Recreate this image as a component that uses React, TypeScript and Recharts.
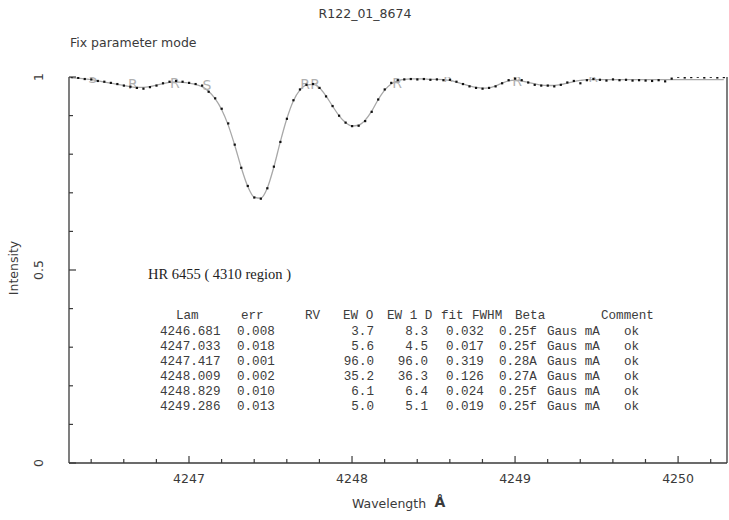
import React from "react";
import { ComposedChart, XAxis, YAxis, Line, Scatter } from "recharts";

// observed spectrum (dots)
const obsLam = [
  4246.28, 4246.32, 4246.36, 4246.4, 4246.44, 4246.48, 4246.52, 4246.56, 4246.6, 4246.64,
  4246.68, 4246.72, 4246.76, 4246.8, 4246.84, 4246.88, 4246.92, 4246.96, 4247.0, 4247.04,
  4247.08, 4247.12, 4247.16, 4247.2, 4247.24, 4247.28, 4247.32, 4247.36, 4247.4, 4247.44,
  4247.48, 4247.52, 4247.56, 4247.6, 4247.64, 4247.68, 4247.72, 4247.76, 4247.8, 4247.84,
  4247.88, 4247.92, 4247.96, 4248.0, 4248.04, 4248.08, 4248.12, 4248.16, 4248.2, 4248.24,
  4248.28, 4248.32, 4248.36, 4248.4, 4248.44, 4248.48, 4248.52, 4248.56, 4248.6, 4248.64,
  4248.68, 4248.72, 4248.76, 4248.8, 4248.84, 4248.88, 4248.92, 4248.96, 4249.0, 4249.04,
  4249.08, 4249.12, 4249.16, 4249.2, 4249.24, 4249.28, 4249.32, 4249.36, 4249.4, 4249.44,
  4249.48, 4249.52, 4249.56, 4249.6, 4249.64, 4249.68, 4249.72, 4249.76, 4249.8, 4249.84,
  4249.88, 4249.92, 4249.96, 4250.0, 4250.04, 4250.08, 4250.12, 4250.16, 4250.2, 4250.24,
  4250.28,
];
const obsInt = [
  1.0, 0.998, 0.995, 0.994, 0.99, 0.988, 0.985, 0.982, 0.978, 0.975,
  0.972, 0.97, 0.974, 0.978, 0.984, 0.988, 0.99, 0.988, 0.985, 0.982,
  0.978, 0.962, 0.945, 0.918, 0.88, 0.825, 0.765, 0.718, 0.688, 0.685,
  0.712, 0.768, 0.832, 0.892, 0.94, 0.968, 0.98, 0.982, 0.972, 0.95,
  0.925, 0.9, 0.882, 0.873, 0.874, 0.886, 0.91, 0.942, 0.968, 0.985,
  0.992, 0.994, 0.995, 0.994, 0.995, 0.993, 0.994, 0.992, 0.993, 0.988,
  0.982, 0.976, 0.972, 0.97, 0.972, 0.976, 0.984, 0.992, 0.996, 0.992,
  0.986, 0.98, 0.978, 0.978, 0.976, 0.98, 0.986, 0.99, 0.984, 0.992,
  0.995, 0.993, 0.991, 0.994, 0.992, 0.993, 0.991, 0.992, 0.991, 0.99,
  0.992, 0.989, 0.996, 1.001, 0.999, 1.0, 1.001, 0.999, 1.001, 0.999,
  1.0,
];
// fitted profile (grey line), same wavelengths
const fitInt = [
  0.998, 0.997, 0.995, 0.993, 0.99, 0.987, 0.984, 0.981, 0.978, 0.975,
  0.973, 0.973, 0.975, 0.979, 0.983, 0.986, 0.987, 0.986, 0.984, 0.981,
  0.975, 0.963, 0.944, 0.916, 0.876, 0.824, 0.766, 0.717, 0.689, 0.686,
  0.712, 0.766, 0.832, 0.892, 0.938, 0.966, 0.979, 0.981, 0.972, 0.951,
  0.925, 0.9, 0.882, 0.873, 0.875, 0.888, 0.911, 0.941, 0.966, 0.982,
  0.99, 0.994, 0.995, 0.995, 0.995, 0.994, 0.994, 0.993, 0.991, 0.987,
  0.982, 0.977, 0.973, 0.971, 0.972, 0.977, 0.984, 0.99, 0.992, 0.99,
  0.986, 0.982, 0.979, 0.978, 0.978, 0.98, 0.984, 0.988, 0.991, 0.993,
  0.993, 0.993, 0.993, 0.993, 0.993, 0.993, 0.993, 0.993, 0.993, 0.993,
  0.993, 0.993, 0.993, 0.993, 0.993, 0.993, 0.993, 0.993, 0.993, 0.993,
  0.993,
];
// grey marker letters on the profile
const markLam = [4246.41, 4246.656, 4246.914, 4247.11, 4247.712, 4247.773, 4248.276, 4248.589, 4249.012, 4249.479];
const markInt = [0.997, 0.982, 0.985, 0.98, 0.982, 0.982, 0.984, 1.0, 0.99, 1.0];
const markChr = ["S", "R", "R", "S", "R", "R", "R", "R", "R", "R"];

const xMajor = [4247, 4248, 4249, 4250];
const xTicks = [
  4246.4, 4246.6, 4246.8, 4247, 4247.2, 4247.4, 4247.6, 4247.8, 4248, 4248.2, 4248.4, 4248.6,
  4248.8, 4249, 4249.2, 4249.4, 4249.6, 4249.8, 4250, 4250.2,
];
const yMajor = [0, 0.5, 1];
const yTicks = [0, 0.1, 0.2, 0.3, 0.4, 0.5, 0.6, 0.7, 0.8, 0.9, 1];

// fit table
const tableTitle = "HR 6455 ( 4310 region )";
const tableHead = ["Lam", "err", "RV", "EW O", "EW 1 D", "fit", "FWHM", "Beta", "Comment"];
const tLam = ["4246.681", "4247.033", "4247.417", "4248.009", "4248.829", "4249.286"];
const tErr = ["0.008", "0.018", "0.001", "0.002", "0.010", "0.013"];
const tEw0 = ["3.7", "5.6", "96.0", "35.2", "6.1", "5.0"];
const tEw1 = ["8.3", "4.5", "96.0", "36.3", "6.4", "5.1"];
const tFit = ["0.032", "0.017", "0.319", "0.126", "0.024", "0.019"];
const tFwhm = ["0.25f", "0.25f", "0.28A", "0.27A", "0.25f", "0.25f"];
const tBeta = ["Gaus mA", "Gaus mA", "Gaus mA", "Gaus mA", "Gaus mA", "Gaus mA"];
const tCom = ["ok", "ok", "ok", "ok", "ok", "ok"];

const obsData = obsLam.map((lam, i) => ({ lam, v: obsInt[i] }));
const fitData = obsLam.map((lam, i) => ({ lam, v: fitInt[i] }));
const markData = markLam.map((lam, i) => ({ lam, v: markInt[i], ch: markChr[i] }));

const INK = "#3a3a3a";
const SANS = "'DejaVu Sans', sans-serif";
const MONO = "'Liberation Mono', monospace";

const XTick = (p: any) => {
  const major = xMajor.includes(p.payload.value);
  return (
    <g>
      <line x1={p.x} x2={p.x} y1={p.y} y2={p.y - (major ? 7 : 4)} stroke={INK} strokeWidth={1.2} />
      {major && (
        <text x={p.x} y={p.y + 15} textAnchor="middle" dominantBaseline="central" fontSize={12.5} fill={INK} fontFamily={SANS}>
          {p.payload.value}
        </text>
      )}
    </g>
  );
};

const YTick = (p: any) => {
  const major = yMajor.includes(p.payload.value);
  return (
    <g>
      <line x1={p.x} x2={p.x + (major ? 7 : 4)} y1={p.y} y2={p.y} stroke={INK} strokeWidth={1.2} />
      {major && (
        <text x={p.x - 31} y={p.y} textAnchor="middle" dominantBaseline="central" fontSize={12.5} fill={INK}
          fontFamily={SANS} transform={`rotate(-90 ${p.x - 31} ${p.y})`}>
          {p.payload.value}
        </text>
      )}
    </g>
  );
};

const RTick = (p: any) => (
  <line x1={p.x} x2={p.x - (yMajor.includes(p.payload.value) ? 7 : 4)} y1={p.y} y2={p.y} stroke={INK} strokeWidth={1.2} />
);

const Dot = (p: any) => <rect x={p.cx - 1} y={p.cy - 1} width={2.2} height={2.2} fill="#111" />;

const Letter = (p: any) => (
  <text x={p.cx} y={p.cy} textAnchor="middle" dominantBaseline="central" fontSize={14} fill="#b0b0b0" fontFamily={SANS}>
    {p.payload.ch}
  </text>
);

const colX = { lam: 160, err: 237, ew0: 374, ew1: 428, fit: 446, fwhm: 499, beta: 547, com: 624 };
const headX = [176, 241, 305, 343, 387, 441, 472, 515, 601];
const rowY0 = 332;
const rowStep = 15;

export default function App() {
  return (
    <div style={{ position: "fixed", left: 0, top: 0, width: 729, height: 520, background: "#fff" }}>
      <ComposedChart width={729} height={520} margin={{ top: 77, right: 0, bottom: 17, left: 29 }}>
        <XAxis
          dataKey="lam"
          type="number"
          domain={[4246.264, 4250.3]}
          allowDataOverflow
          ticks={xTicks}
          interval={0}
          tick={<XTick />}
          tickLine={false}
          tickSize={0}
          tickMargin={0}
          height={40}
          stroke={INK}
          strokeWidth={1.3}
        />
        <YAxis
          dataKey="v"
          type="number"
          domain={[0, 1]}
          allowDataOverflow
          ticks={yTicks}
          interval={0}
          tick={<YTick />}
          tickLine={false}
          tickSize={0}
          tickMargin={0}
          width={40}
          stroke={INK}
          strokeWidth={1.3}
        />
        <YAxis
          yAxisId="r"
          orientation="right"
          type="number"
          domain={[0, 1]}
          ticks={yTicks}
          interval={0}
          tick={<RTick />}
          tickLine={false}
          tickSize={0}
          tickMargin={0}
          width={2}
          stroke={INK}
          strokeWidth={1.3}
        />
        <Line data={fitData} dataKey="v" type="monotone" stroke="#a8a8a8" strokeWidth={1.3} dot={false} isAnimationActive={false} />
        <Scatter data={markData} dataKey="v" shape={<Letter />} isAnimationActive={false} />
        <Scatter data={obsData} dataKey="v" shape={<Dot />} isAnimationActive={false} />
      </ComposedChart>
      <svg width={729} height={520} style={{ position: "absolute", left: 0, top: 0, pointerEvents: "none" }}>
        <text x={365} y={13} textAnchor="middle" dominantBaseline="central" fontSize={12.5} fill={INK} fontFamily={SANS}>
          R122_01_8674
        </text>
        <text x={70} y={42} dominantBaseline="central" fontSize={12.5} fill={INK} fontFamily={SANS}>
          Fix parameter mode
        </text>
        <text x={13} y={268} textAnchor="middle" dominantBaseline="central" fontSize={12.5} fill={INK} fontFamily={SANS}
          transform="rotate(-90 13 268)">
          Intensity
        </text>
        <text x={389} y={503} textAnchor="middle" dominantBaseline="central" fontSize={12.5} fill={INK} fontFamily={SANS}>
          Wavelength
        </text>
        <text x={440} y={502} textAnchor="middle" dominantBaseline="central" fontSize={14} fontWeight="bold" fill={INK} fontFamily={SANS}>
          Å
        </text>
        <text x={148} y={274} dominantBaseline="central" fontSize={14.5} fill="#222" fontFamily="'Liberation Serif', serif">
          {tableTitle}
        </text>
        <g fontFamily={MONO} fontSize={12.6} fill="#3c3c3c">
          {tableHead.map((h, i) => (
            <text key={h} x={headX[i]} y={316} dominantBaseline="central">{h}</text>
          ))}
          {tLam.map((lam, r) => {
            const y = rowY0 + r * rowStep;
            return (
              <g key={lam}>
                <text x={colX.lam} y={y} dominantBaseline="central">{lam}</text>
                <text x={colX.err} y={y} dominantBaseline="central">{tErr[r]}</text>
                <text x={colX.ew0} y={y} textAnchor="end" dominantBaseline="central">{tEw0[r]}</text>
                <text x={colX.ew1} y={y} textAnchor="end" dominantBaseline="central">{tEw1[r]}</text>
                <text x={colX.fit} y={y} dominantBaseline="central">{tFit[r]}</text>
                <text x={colX.fwhm} y={y} dominantBaseline="central">{tFwhm[r]}</text>
                <text x={colX.beta} y={y} dominantBaseline="central">{tBeta[r]}</text>
                <text x={colX.com} y={y} dominantBaseline="central">{tCom[r]}</text>
              </g>
            );
          })}
        </g>
      </svg>
    </div>
  );
}
